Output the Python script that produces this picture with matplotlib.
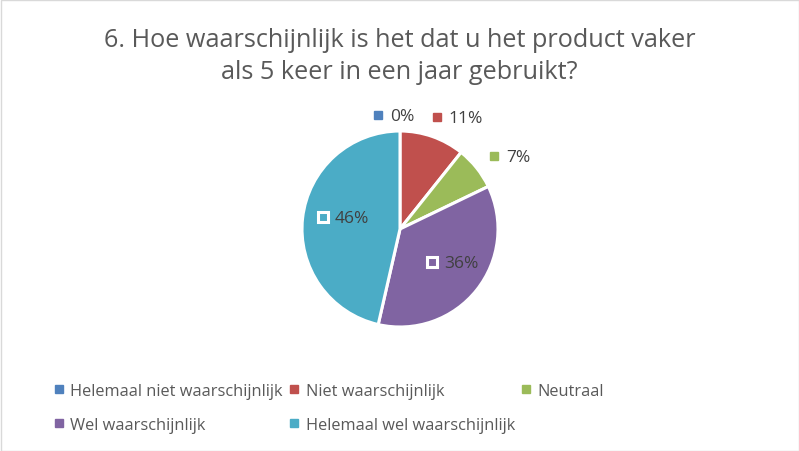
import numpy as np
import matplotlib.pyplot as plt
from matplotlib.patches import Rectangle
from matplotlib.lines import Line2D

plt.rcParams['font.family'] = ['Open Sans', 'DejaVu Sans']

title = '6. Hoe waarschijnlijk is het dat u het product vaker\nals 5 keer in een jaar gebruikt?'
categories = ['Helemaal niet waarschijnlijk', 'Niet waarschijnlijk', 'Neutraal',
              'Wel waarschijnlijk', 'Helemaal wel waarschijnlijk']
counts = [0, 3, 2, 10, 13]
colors = ['#4F81BD', '#C0504D', '#9BBB59', '#8064A2', '#4BACC6']
# label placement: radius factor, extra angle (deg), inside?
label_pos = [(1.195, 10.8, False), (1.213, 1.2, False), (1.227, 0, False),
             (0.455, -5.5, True), (0.797, -3.2, True)]

W, H = 799, 452
fig = plt.figure(figsize=(W / 100, H / 100), dpi=100)
ax = fig.add_axes([0, 0, 1, 1])

cx, cy, r = 400, H - 230, 98
wedges, _ = ax.pie(counts, colors=colors, startangle=90, counterclock=False,
                   center=(cx, cy), radius=r, frame=True,
                   wedgeprops=dict(edgecolor='white', linewidth=2.2))
ax.set_xlim(0, W)
ax.set_ylim(0, H)
ax.set_aspect('equal')
ax.axis('off')

total = sum(counts)
pct = [c / total * 100 for c in counts]
ang = 90
for i, p in enumerate(pct):
    span = p / 100 * 360
    mid = ang - span / 2
    ang -= span
    rf, da, inside = label_pos[i]
    a = np.deg2rad(mid + da)
    x = cx + rf * r * np.cos(a)
    y = cy + rf * r * np.sin(a)
    if inside:
        ax.plot(x, y - 1.5, marker='s', markersize=7.5, markerfacecolor=colors[i],
                markeredgecolor='white', markeredgewidth=2.2)
    else:
        ax.plot(x, y - 1.5, marker='s', markersize=5.5, color=colors[i])
    ax.text(x + 12, y - 2.5, f'{p:.0f}%', ha='left', va='center', fontsize=12.5,
            color='#404040')

# legend, row-major order
handles = [Line2D([], [], linestyle='none', marker='s', markersize=5.5,
                  color=c) for c in colors]
order = [0, 3, 1, 4, 2]
fig.legend([handles[i] for i in order], [categories[i] for i in order],
           ncol=3, loc='upper left', bbox_to_anchor=(39 / W, 1 - 369 / H),
           frameon=False, fontsize=11.8, labelcolor='#595959',
           handlelength=0.6, handletextpad=0.4, columnspacing=0.4,
           labelspacing=1.1)

fig.text(0.5, 1 - 56.5 / H, title, ha='center', va='center', fontsize=18.2,
         color='#595959', linespacing=1.32)

fig.patches.append(Rectangle((0.5 / W, 0.5 / H), 1 - 1 / W, 1 - 1 / H,
                             transform=fig.transFigure, fill=False,
                             edgecolor='#D9D9D9', linewidth=1))

fig.savefig('out.png', dpi=100)
